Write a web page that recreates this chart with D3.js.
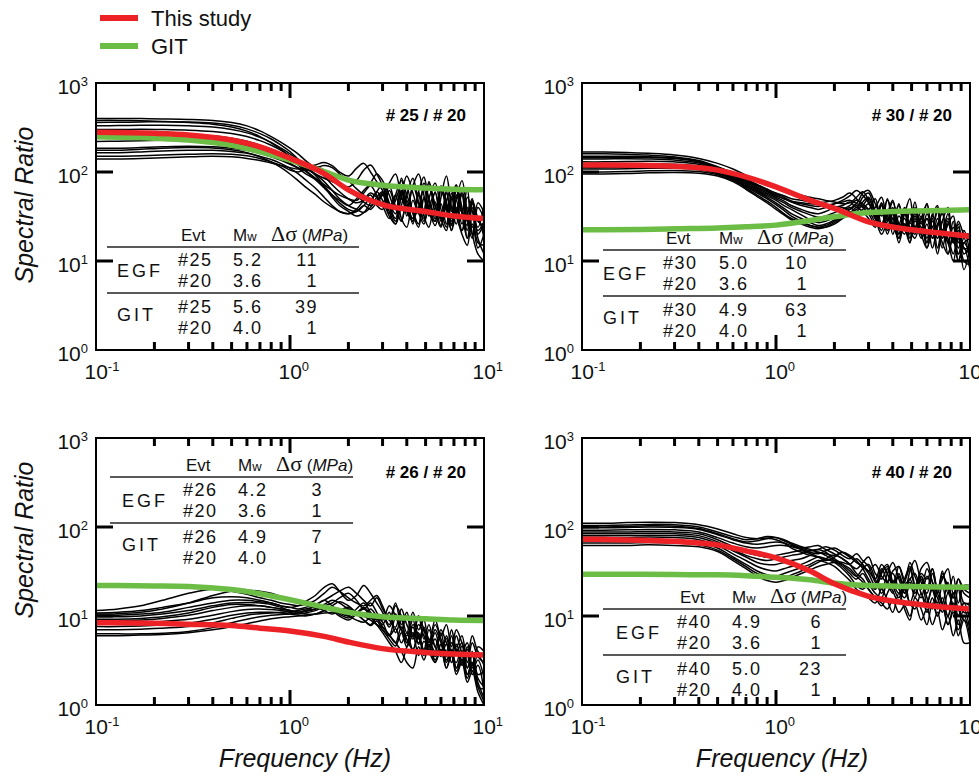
<!DOCTYPE html>
<html>
<head>
<meta charset="utf-8">
<script src="https://cdn.jsdelivr.net/npm/d3@7"></script>
<style>
body { margin: 0; background: #fff; }
svg { display: block; font-family: "Liberation Sans", Arial, sans-serif; }
</style>
</head>
<body>
<svg id="chart" width="979" height="777"></svg>
<script>
// frequencies (Hz) of the observed spectral ratios
const freq = [0.1, 0.13, 0.17, 0.22, 0.3, 0.4, 0.5, 0.6, 0.7, 0.8, 0.9, 1.0, 1.1, 1.2, 1.35,
              1.5, 1.65, 1.8, 2.0, 2.2, 2.4, 2.6, 2.8, 3.0, 3.25, 3.5, 3.75, 4.0, 4.3, 4.6,
              4.9, 5.2, 5.6, 6.0, 6.4, 6.8, 7.2, 7.7, 8.2, 8.7, 9.3, 10.0];

// observed spectral ratios, one row per station
const spec25_20 = [
  [400,400,398,395,390,380,360,330,290,250,215,185,160,135,110,90,72,60,50,45,48,55,42, 38,62,40,28,55,85,45,30,68,42,25,58,36,70,40,22,48,30,22],
  [360,362,365,368,365,355,335,305,270,235,200,170,140,118,95,78,62,50,42,38,35,40,52, 60,40,28,55,90,58,35,26,50,75,38,24,52,34,62,28,18,40,30],
  [330,332,335,335,330,320,300,275,245,215,185,160,138,115,92,70,55,45,38,36,42,50,46, 55,75,95,52,38,30,60,88,48,32,70,45,28,50,80,35,20,45,35],
  [300,300,302,300,295,285,270,250,225,200,175,150,128,105,85,68,52,42,36,32,35,45,60, 48,32,26,50,40,70,95,55,34,28,62,42,25,55,35,65,24,30,18],
  [270,270,268,265,262,255,240,222,200,178,158,138,120,102,85,72,62,55,50,48,58,70,55, 42,30,55,80,45,30,40,65,38,25,52,90,40,26,58,28,44,18,12],
  [220,222,225,228,230,225,212,195,178,160,142,125,112,105,110,118,112,95,80,65,55,48,60, 72,45,34,62,40,28,55,36,78,42,30,48,65,32,22,52,36,24,42],
  [185,185,188,192,195,192,185,175,162,148,135,122,110,96,82,66,55,48,42,50,62,75,95, 80,55,38,60,32,70,45,28,40,58,30,22,50,72,35,25,46,28,25],
  [165,165,168,172,175,175,170,162,150,138,124,110,96,82,66,52,42,36,34,38,48,58,52, 44,70,40,28,48,26,60,36,75,35,24,44,30,62,34,18,40,16,15],
  [150,150,152,155,158,160,158,152,142,130,118,105,100,108,115,105,90,76,68,80,105,120,95, 70,42,30,85,55,36,26,52,40,28,65,38,22,48,26,40,20,12,10],
  [140,140,142,145,148,150,148,142,135,126,118,112,108,112,120,128,118,100,90,110,125,100,78, 62,40,55,30,24,48,34,75,50,30,44,26,58,34,20,15,32,22,28],
  [175,176,180,185,188,186,178,165,148,130,112,95,80,68,56,46,40,36,34,36,42,38,46, 58,36,26,42,68,34,24,50,32,60,28,40,22,36,55,18,26,14,20],
  [380,380,376,370,360,345,320,288,250,212,178,150,128,110,95,85,78,72,62,55,46,42,48, 56,34,48,70,36,28,55,32,24,46,30,62,26,40,22,34,50,20,26]
];
const spec30_20 = [
  [168,168,166,162,155,142,125,108,92,80,72,66,62,58,55,52,50,48,46,44,45,52,60, 48,30,45,28,40,22,34,50,24,36,20,32,42,22,30,18,28,20,17],
  [160,160,158,155,148,135,115,98,84,72,64,58,54,50,48,46,45,46,48,52,58,50,42, 38,50,26,34,48,24,30,20,40,26,44,18,30,22,34,16,26,14,14],
  [150,150,150,148,144,132,112,94,80,70,62,55,50,46,42,40,38,40,44,48,54,62,55, 45,32,24,50,30,42,22,28,38,20,34,24,40,18,26,32,16,22,12],
  [140,140,141,140,136,126,108,90,76,66,58,52,47,42,38,35,34,36,40,42,46,40,52, 58,36,26,32,46,26,20,38,24,30,44,20,26,34,16,24,14,20,20],
  [130,130,131,132,130,122,106,88,74,64,56,50,45,40,36,33,31,32,35,38,42,48,44, 38,28,44,24,34,20,40,26,46,22,30,18,24,36,16,28,12,18,10],
  [122,122,123,124,122,116,102,86,72,62,54,48,42,38,33,29,27,28,31,35,40,36,46, 52,32,22,38,26,18,34,24,20,32,16,28,22,14,26,18,12,16,18],
  [115,115,116,117,116,110,98,84,70,60,52,45,39,34,30,27,25,26,29,33,38,44,40, 34,26,42,22,30,20,36,18,28,24,16,30,14,22,18,12,20,10,9],
  [108,108,109,110,110,106,96,82,68,58,50,43,37,32,28,25,24,25,28,32,36,32,38, 44,30,20,28,38,18,26,16,32,20,14,24,18,28,12,20,10,14,8],
  [100,100,101,103,104,101,93,80,66,55,47,40,34,30,27,25,24,24,26,30,34,40,36, 30,24,36,20,30,16,26,22,18,28,14,22,12,20,16,10,18,8,14],
  [95,95,96,98,99,97,90,78,64,53,45,38,33,29,26,24,23,24,27,31,35,38,42, 50,34,26,38,20,32,24,16,30,18,26,14,22,16,12,20,10,16,12],
  [112,112,113,114,113,110,102,92,82,72,64,57,52,47,44,42,41,42,44,46,48,45,58, 62,44,32,48,34,26,40,22,34,20,30,24,36,18,28,16,24,14,12],
  [145,145,146,146,142,130,110,92,78,68,60,54,50,47,45,44,43,42,41,40,38,42,35, 34,40,52,30,26,44,24,36,22,30,18,34,20,28,40,16,22,12,15]
];
const spec26_20 = [
  [11.5,12,13,15,18,20,19,17.5,16,15,14,13.5,13,13.5,15,18,21,19,16,14,13,15,17, 13,9,14,8,11,6,10,7,5,9,6,8,4.5,7,5,3.5,6,4,3.5],
  [10.8,11,11.5,12.5,14,16,16.5,16,15,14,13,12.5,13,14.5,17,21,23,19,15,17,22,18,14, 11,8,13,10,6.5,11,7,9,5,8,5.5,4,7,4.5,6,3,5,3.5,3],
  [10.2,10.2,10.5,11,12.5,14,15,15,14.5,14,13,12.5,12,12.5,13.5,15,17,19,21,18,15,13,16, 12,9,7.5,12,8,6,10,5.5,8,4.5,7,5,3.8,6,4,5,2.8,4.5,4],
  [9.8,9.8,10,10.5,11.5,13,14,14.2,14,13.5,12.5,11.5,11,11.5,12,13,14,16,18,15,12,14,11, 9,13,10,7,10,5.5,8,6,4.5,7,5,3.5,6,4,5,2.6,4,2.2,2.4],
  [9.2,9.2,9.4,9.8,10.8,12.5,13.5,13.5,13,12.5,12,11.5,11,11.5,13,15,13,11,10,12,14,11,9.5, 8,11,6.5,9,5,7.5,4.8,7,5.5,4,6.5,3.5,5,4.2,3,4.5,2.4,3.2,2],
  [8.8,8.8,9,9.4,10.2,11.5,12.5,13,13,12.5,12,11.5,11,10.5,10.5,11.5,13,14.5,13,11,10,12,10, 8.5,6,9.5,7,5,8,6,4.2,7,4.5,3.5,6,3.8,3,4.6,2.6,3.6,2,1.6],
  [8.2,8.2,8.4,8.7,9.2,10.2,11.2,11.8,12,11.8,11.5,11,10.5,10.8,11.5,12.5,11.5,10,9,10.5,12,10,8, 6.5,5,4,3,4.5,6.5,5,7,4.2,5.5,3.6,4.8,3,4.2,2.8,3.6,2.2,2.8,1.4],
  [7.6,7.6,7.7,7.9,8.3,9.2,10.2,10.8,11,11,10.8,10.5,10.2,10,10.5,11.5,12.5,11.5,10,9,8.5,9.5,8, 7,5.5,4.6,6.5,4.5,6,3.6,5.2,4,3,4.8,3.2,4.2,2.6,3.8,2.2,3,1.8,1.2],
  [7,7,7.1,7.3,7.6,8.4,9.4,10.2,10.6,10.8,11,11.2,11.5,12,12.5,11.5,10.5,11.5,12.5,10.5,9,8,9.5, 7.5,6.2,5,7.5,5.5,4.2,6.5,4,5.5,3.5,4.8,3,4.2,2.6,3.6,2.2,3,1.6,1.5],
  [6.3,6.3,6.3,6.4,6.7,7.4,8.4,9.2,9.8,10.2,10.4,10.5,10.8,11.2,12,13,12,10.5,9.5,10.5,9,7.8,8.8, 7,6,7.2,5,6.5,4.2,5.8,3.6,4.8,3.2,4.2,2.6,3.8,2.4,3.2,2,2.8,1.6,1.1],
  [10.5,10.6,11,12,14,17,19,19.5,19,18,16.5,15,14,13.5,13,13.5,15,14,12,11,12.5,10.5,9, 10,7.5,10.5,7,6,9,5.5,7.5,4.5,6.5,4,5.6,3.5,4.8,3.2,4.2,2.6,3.6,2.8],
  [6,6,6.1,6.2,6.5,7,7.6,8.2,8.8,9.3,9.6,9.8,10,10.2,10.5,10.8,11,11.5,12,11,10,9,8, 7.5,6,5,4,3,2.6,4.5,3.2,4.6,3,4.2,2.6,3.6,2.2,3,1.8,2.4,1.4,1.0]
];
const spec40_20 = [
  [110,110,112,113,112,106,95,84,76,74,75,76,72,66,60,56,52,50,48,52,46,40,36, 32,26,38,30,22,36,24,40,28,20,34,24,18,30,20,16,26,18,16],
  [104,104,105,107,106,100,88,78,72,74,78,76,70,64,58,54,56,60,55,48,44,50,42, 36,24,20,30,40,26,18,32,42,24,18,30,20,26,34,18,22,14,14],
  [98,98,99,100,99,94,82,72,66,64,66,68,66,62,58,60,62,56,50,44,38,34,40, 46,30,26,34,22,28,18,26,20,34,40,24,18,32,18,28,14,22,22],
  [92,92,93,94,93,88,76,66,60,58,60,62,62,60,56,52,50,54,58,52,46,40,36, 30,22,34,24,18,30,20,24,16,28,20,34,18,14,24,12,20,11,11],
  [88,88,88,89,88,84,72,60,52,48,46,48,50,52,54,50,46,42,46,52,48,42,34, 26,20,32,38,24,18,26,36,22,16,28,20,14,22,12,18,10,14,9],
  [84,84,84,85,84,80,68,56,48,44,42,44,46,48,50,54,56,52,44,38,32,28,34, 38,26,18,24,30,20,16,22,18,26,14,20,16,11,18,13,10,14,13],
  [80,80,80,81,80,76,65,54,46,40,38,38,40,42,44,48,52,48,42,36,30,26,30, 24,20,30,36,22,16,24,14,20,28,16,12,20,14,10,18,12,9,8],
  [76,76,76,77,76,72,62,50,42,36,33,32,34,36,38,42,46,44,40,34,28,22,20, 22,18,16,24,19,14,22,26,30,18,14,22,12,16,10,14,8,12,7],
  [72,72,72,73,72,68,58,46,38,32,29,28,30,32,35,38,42,40,36,30,25,20,18, 16,14,20,15,11,18,12,9,16,12,8,14,10,13,8,11,6,9,5],
  [66,66,66,67,66,63,55,44,36,30,27,26,27,29,32,36,40,44,48,44,38,30,26, 20,16,13,18,24,28,20,14,12,18,11,16,10,14,8,12,7,10,6],
  [62,62,62,63,62,60,53,42,34,28,25,24,25,27,30,33,36,38,40,38,34,28,24, 20,16,14,12,15,11,13,10,14,9,12,8,11,7,10,6,9,5,5],
  [100,100,101,103,102,96,84,74,68,70,74,72,66,58,52,48,46,44,42,40,38,44,38, 32,38,28,24,32,36,26,34,22,30,26,34,20,28,22,16,26,20,18]
];

// model ratios: this study (red) and GIT (green)
const fitFreq = [0.1, 0.2, 0.3, 0.5, 0.7, 1, 1.5, 2, 3, 5, 7, 10];
const red25 = [279,272,261,229,192,143,96,63,43,36,32,30];
const git25 = [249,240,229,200,169,136,101,81,71,66,64,63];
const red30 = [120,119,116,105,88,68,48,39,27.5,22.4,20.6,19];
const git30 = [22.4,22.6,23,23.5,24.2,25.3,28.5,31.4,35,36.5,37,37.6];
const red26 = [8.4,8.3,8.1,7.8,7.3,6.8,5.9,5.1,4.3,3.9,3.75,3.65];
const git26 = [22,21.8,21.5,19.8,17.8,15.2,12.6,11,9.8,9.3,9.0,8.9];
const red40 = [73,71,69,63,54,45,32,23,16.6,13.8,12.7,12];
const git40 = [29.5,29.4,29.2,29,28.4,27.3,25.5,23.3,22,21.5,21.2,21];

// table contents
const evt25 = ["#25", "#20", "#25", "#20"], mw25 = ["5.2", "3.6", "5.6", "4.0"], sd25 = ["11", "1", "39", "1"];
const evt30 = ["#30", "#20", "#30", "#20"], mw30 = ["5.0", "3.6", "4.9", "4.0"], sd30 = ["10", "1", "63", "1"];
const evt26 = ["#26", "#20", "#26", "#20"], mw26 = ["4.2", "3.6", "4.9", "4.0"], sd26 = ["3", "1", "7", "1"];
const evt40 = ["#40", "#20", "#40", "#20"], mw40 = ["4.9", "3.6", "5.0", "4.0"], sd40 = ["6", "1", "23", "1"];

const xMinor = [0.2, 0.3, 0.4, 0.5, 0.6, 0.7, 0.8, 0.9, 2, 3, 4, 5, 6, 7, 8, 9];
const xMajor = [1];
const yMajor = [10, 100];
const xLabels = [0.1, 1, 10], xExp = ["-1", "0", "1"];
const yLabels = [1, 10, 100, 1000], yExp = ["0", "1", "2", "3"];

const RED = "#ec2227", GREEN = "#6cbd45";
const W = 388, H = 267;

const svg = d3.select("#chart");
const x = d3.scaleLog().domain([0.1, 10]).range([0, W]);
const y = d3.scaleLog().domain([1, 1000]).range([H, 0]);

const panels = [
  {left: 96, top: 83, spec: spec25_20, red: red25, git: git25, name: "# 25 / # 20",
   evt: evt25, mw: mw25, sd: sd25, tab: {y: 164, x0: 11, x1: 263, lab: 21, evt: 82, mw: 137, sd: 222}},
  {left: 582, top: 83, spec: spec30_20, red: red30, git: git30, name: "# 30 / # 20",
   evt: evt30, mw: mw30, sd: sd30, tab: {y: 167, x0: 21, x1: 264, lab: 21, evt: 81, mw: 137, sd: 226}},
  {left: 96, top: 438, spec: spec26_20, red: red26, git: git26, name: "# 26 / # 20",
   evt: evt26, mw: mw26, sd: sd26, tab: {y: 39, x0: 14, x1: 257, lab: 26, evt: 87, mw: 142, sd: 227}},
  {left: 582, top: 438, spec: spec40_20, red: red40, git: git40, name: "# 40 / # 20",
   evt: evt40, mw: mw40, sd: sd40, tab: {y: 171, x0: 21, x1: 264, lab: 34, evt: 95, mw: 150, sd: 240}}
];

const specLine = d3.line().x((d, i) => x(freq[i])).y(d => y(d)).curve(d3.curveCatmullRom);
const fitLine = d3.line().x((d, i) => x(fitFreq[i])).y(d => y(d)).curve(d3.curveMonotoneX);

panels.forEach(function(p, k) {
  const g = svg.append("g").attr("transform", "translate(" + p.left + "," + p.top + ")");

  // table
  const t = p.tab;
  const tg = g.append("g").attr("fill", "#111");
  tg.append("text").attr("x", t.evt + 3).attr("y", t.y - 6).attr("font-size", 17).text("Evt");
  const mh = tg.append("text").attr("x", t.mw).attr("y", t.y - 6).attr("font-size", 17);
  mh.append("tspan").text("M");
  mh.append("tspan").attr("font-size", 13).text("w");
  const dh = tg.append("text").attr("x", t.mw + 38).attr("y", t.y - 6).attr("font-size", 17);
  dh.append("tspan").attr("font-family", "'Liberation Serif', 'DejaVu Serif', serif").attr("font-size", 22).text("\u0394\u03c3");
  dh.append("tspan").text(" (");
  dh.append("tspan").attr("font-style", "italic").text("MPa");
  dh.append("tspan").text(")");
  [0, 46].forEach(function(dy) {
    tg.append("line").attr("x1", t.x0).attr("x2", t.x1).attr("y1", t.y + dy).attr("y2", t.y + dy)
      .attr("stroke", "#222").attr("stroke-width", 1.5);
  });
  tg.append("text").attr("x", t.lab).attr("y", t.y + 30).attr("font-size", 18).attr("letter-spacing", 3).text("EGF");
  tg.append("text").attr("x", t.lab).attr("y", t.y + 74).attr("font-size", 18).attr("letter-spacing", 3).text("GIT");
  const rows = [19, 40, 66, 87];
  rows.forEach(function(ry, i) {
    tg.append("text").attr("x", t.evt).attr("y", t.y + ry).attr("font-size", 18).attr("letter-spacing", 1.5).text(p.evt[i]);
    tg.append("text").attr("x", t.mw).attr("y", t.y + ry).attr("font-size", 18).attr("letter-spacing", 1.5).text(p.mw[i]);
    tg.append("text").attr("x", t.sd).attr("y", t.y + ry).attr("font-size", 18).attr("letter-spacing", 1.5)
      .attr("text-anchor", "end").text(p.sd[i]);
  });

  // curves, clipped to the plot box
  g.append("clipPath").attr("id", "clip" + k)
    .append("rect").attr("width", W).attr("height", H);
  const plot = g.append("g").attr("clip-path", "url(#clip" + k + ")");
  plot.selectAll(".obs").data(p.spec).enter().append("path")
    .attr("class", "obs")
    .attr("d", specLine)
    .attr("fill", "none").attr("stroke", "#000").attr("stroke-width", 1.5);
  plot.append("path").attr("d", fitLine(p.git))
    .attr("fill", "none").attr("stroke", GREEN).attr("stroke-width", 5.5);
  plot.append("path").attr("d", fitLine(p.red))
    .attr("fill", "none").attr("stroke", RED).attr("stroke-width", 5.5);

  // frame
  g.append("rect").attr("width", W).attr("height", H)
    .attr("fill", "none").attr("stroke", "#000").attr("stroke-width", 2);

  // tick labels with exponents
  xLabels.forEach(function(v, i) {
    const tx = g.append("text").attr("x", x(v) - 11.5).attr("y", H + 29).attr("font-size", 21).attr("fill", "#111");
    tx.append("tspan").text("10");
    tx.append("tspan").attr("font-size", 13).attr("dy", -8).text(xExp[i]);
  });
  yLabels.forEach(function(v, i) {
    const ty = g.append("text").attr("x", -8).attr("y", y(v) + 11).attr("font-size", 21)
      .attr("text-anchor", "end").attr("fill", "#111");
    ty.append("tspan").text("10");
    ty.append("tspan").attr("font-size", 13).attr("dy", -8).text(yExp[i]);
  });

  g.append("text").attr("x", W - 18).attr("y", k < 2 ? 38 : 40).attr("text-anchor", "end")
    .attr("font-size", 17).attr("font-weight", "bold").text(p.name);
});

// inward ticks on all four sides of every panel, drawn last
panels.forEach(function(p) {
  const tk = svg.append("g").attr("transform", "translate(" + p.left + "," + p.top + ")")
    .attr("stroke", "#000").attr("stroke-width", 3);
  [[xMinor, 8], [xMajor, 15]].forEach(function(s) {
    tk.selectAll(null).data(s[0]).enter().append("line")
      .attr("x1", d => x(d)).attr("x2", d => x(d)).attr("y1", H).attr("y2", H - s[1]);
    tk.selectAll(null).data(s[0]).enter().append("line")
      .attr("x1", d => x(d)).attr("x2", d => x(d)).attr("y1", 0).attr("y2", s[1]);
  });
  tk.selectAll(null).data(yMajor).enter().append("line")
    .attr("x1", 0).attr("x2", 17).attr("y1", d => y(d)).attr("y2", d => y(d));
  tk.selectAll(null).data(yMajor).enter().append("line")
    .attr("x1", W).attr("x2", W - 17).attr("y1", d => y(d)).attr("y2", d => y(d));
});

// axis titles
[205, 540].forEach(function(cy) {
  svg.append("text").attr("transform", "translate(33," + cy + ") rotate(-90)")
    .attr("text-anchor", "middle").attr("font-size", 25).attr("font-style", "italic").attr("fill", "#111")
    .text("Spectral Ratio");
});
[305, 782].forEach(function(cx) {
  svg.append("text").attr("x", cx).attr("y", 767).attr("text-anchor", "middle")
    .attr("font-size", 25).attr("font-style", "italic").attr("fill", "#111").text("Frequency (Hz)");
});

// legend
const legend = [{label: "This study", color: RED, y: 18}, {label: "GIT", color: GREEN, y: 46}];
legend.forEach(function(d) {
  svg.append("line").attr("x1", 100).attr("x2", 138).attr("y1", d.y).attr("y2", d.y)
    .attr("stroke", d.color).attr("stroke-width", 6);
  svg.append("text").attr("x", 151).attr("y", d.y + 8).attr("font-size", 22).attr("fill", "#111").text(d.label);
});
</script>
</body>
</html>
